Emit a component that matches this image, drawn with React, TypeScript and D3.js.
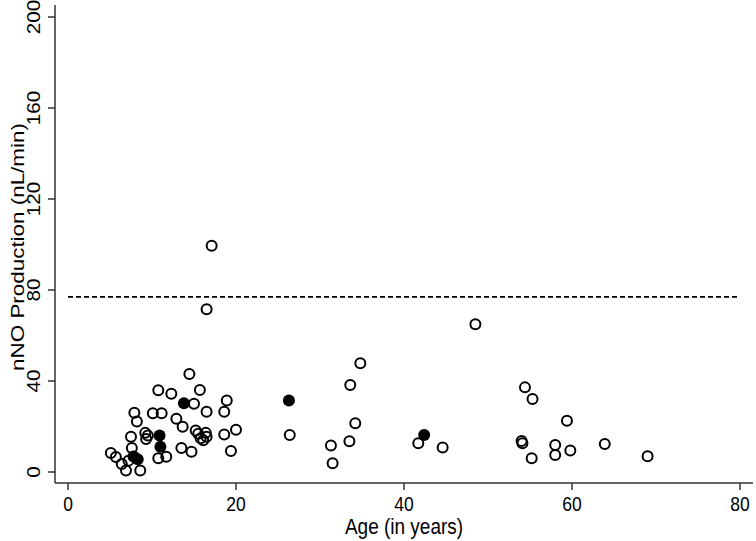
import React from "react";
import * as d3 from "d3";

const openAge = [5.1, 5.7, 6.4, 6.9, 7.2, 7.5, 7.6, 7.9, 8.2, 8.6, 9.2, 9.3, 9.5, 10.1, 10.75, 10.75, 11.15, 11.7, 12.3, 12.9, 13.5, 13.65, 14.45, 14.7, 15.0, 15.2, 15.5, 15.7, 15.8, 16.1, 16.4, 16.5, 16.5, 16.5, 17.1, 18.6, 18.6, 18.9, 19.4, 20.0,
  26.4, 31.3, 31.5, 33.5, 33.6, 34.2, 34.8, 41.7, 44.6, 48.5, 54.0, 54.1, 54.4, 55.3, 55.2, 58.0, 58.0, 59.4, 59.8, 63.9, 69.0];
const openNNO = [8.3, 6.6, 3.5, 0.7, 5.0, 15.5, 10.5, 26.0, 22.2, 0.7, 17.2, 14.5, 16.0, 25.8, 6.0, 35.9, 25.8, 6.7, 34.4, 23.4, 10.6, 19.9, 43.1, 8.9, 30.0, 18.2, 16.8, 36.0, 14.8, 14.0, 17.2, 26.5, 15.5, 71.5, 99.5, 26.5, 16.5, 31.4, 9.2, 18.6,
  16.3, 11.7, 3.8, 13.5, 38.2, 21.4, 47.8, 12.6, 10.8, 64.9, 13.6, 12.6, 37.2, 32.1, 6.0, 11.9, 7.5, 22.5, 9.4, 12.3, 6.9];
const filledAge = [7.8, 8.3, 10.9, 11.0, 13.8, 26.3, 42.4];
const filledNNO = [6.8, 5.6, 16.0, 11.1, 30.2, 31.4, 16.3];
const xTicks = [0, 20, 40, 60, 80];
const yTicks = [0, 40, 80, 120, 160, 200];
const refLine = 77;

const W = 756, H = 541;
const FONT = "'Liberation Sans', Arial, sans-serif";
const STRETCH = 1.18;

export default function App() {
  const x = d3.scaleLinear().domain([0, 80]).range([68, 740]);
  const y = d3.scaleLinear().domain([0, 200]).range([472, 17]);
  const axisColor = "#333";
  return (
    <svg width={W} height={H} style={{ position: "absolute", left: 0, top: 0, background: "#fff" }}>
      <rect width={W} height={H} fill="#fff" />
      <line x1={55} x2={55} y1={5} y2={483} stroke={axisColor} strokeWidth={1.5} />
      <line x1={55} x2={753} y1={483} y2={483} stroke={axisColor} strokeWidth={1.5} />
      {yTicks.map((t) => (
        <g key={"y" + t}>
          <line x1={48} x2={55} y1={y(t)} y2={y(t)} stroke={axisColor} strokeWidth={1.5} />
          <text transform={`translate(40 ${y(t)}) scale(1 ${STRETCH}) rotate(-90)`} textAnchor="middle" fontFamily={FONT} fontSize={17.5} fill="#000">{t}</text>
        </g>
      ))}
      {xTicks.map((t) => (
        <g key={"x" + t}>
          <line x1={x(t)} x2={x(t)} y1={483} y2={490} stroke={axisColor} strokeWidth={1.5} />
          <text transform={`translate(${x(t)} 511) scale(1 ${STRETCH})`} textAnchor="middle" fontFamily={FONT} fontSize={17.5} fill="#000">{t}</text>
        </g>
      ))}
      <text transform={`translate(404 534) scale(1 ${STRETCH})`} textAnchor="middle" fontFamily={FONT} fontSize={19} fill="#000">Age (in years)</text>
      <text transform={`translate(24 247) scale(1 ${STRETCH}) rotate(-90)`} textAnchor="middle" fontFamily={FONT} fontSize={19} fill="#000">nNO Production (nL/min)</text>
      <line x1={x(0)} x2={x(80)} y1={y(refLine)} y2={y(refLine)} stroke="#000" strokeWidth={1.6} strokeDasharray="5,3" />
      {openAge.map((a, i) => (
        <circle key={"o" + i} cx={x(a)} cy={y(openNNO[i])} r={5} fill="none" stroke="#000" strokeWidth={2} />
      ))}
      {filledAge.map((a, i) => (
        <circle key={"f" + i} cx={x(a)} cy={y(filledNNO[i])} r={6} fill="#000" stroke="none" />
      ))}
    </svg>
  );
}
